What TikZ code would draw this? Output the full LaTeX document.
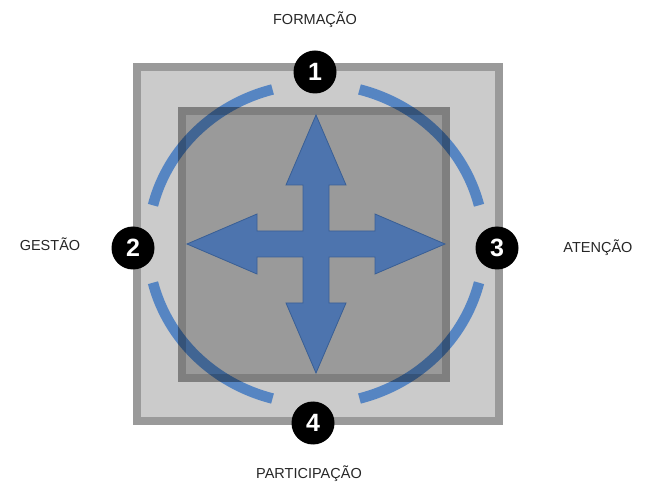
\documentclass[tikz,border=0pt]{standalone}
\usepackage{fontspec}
\setmainfont{Liberation Sans}
\definecolor{outerfill}{HTML}{CBCBCB}
\definecolor{outerline}{HTML}{9A9A9A}
\definecolor{innerfill}{HTML}{C2C2C2}
\definecolor{innerline}{HTML}{A0A0A0}
\definecolor{ringblue}{HTML}{4A7EC2}
\definecolor{arrowblue}{HTML}{4D74AE}
\definecolor{arrowline}{HTML}{3A5F95}
\tikzset{
  numcirc/.style={circle, fill=black, minimum size=43pt, inner sep=0pt,
    text=white, font=\fontsize{25}{25}\selectfont\bfseries},
  lbl/.style={font=\fontsize{14.5}{16}\selectfont, text=black!85},
  ringarc/.style={draw=ringblue, line width=10.5pt, opacity=0.9},
}
\begin{document}
\begin{tikzpicture}[x=1pt,y=1pt]
\useasboundingbox (0,0) rectangle (646,488);
% outer square
\draw[outerline, line width=8pt, fill=outerfill] (137,67) rectangle (499,421);
% ring
\begin{scope}[shift={(316,244)}]
  \draw[ringarc] (14:168 and 160) arc[start angle=14, end angle=75, x radius=168, y radius=160];
  \draw[ringarc] (105:168 and 160) arc[start angle=105, end angle=166, x radius=168, y radius=160];
  \draw[ringarc] (194:168 and 160) arc[start angle=194, end angle=255, x radius=168, y radius=160];
  \draw[ringarc] (285:168 and 160) arc[start angle=285, end angle=346, x radius=168, y radius=160];
\end{scope}
% inner square (multiplied over the ring)
\begin{scope}[blend mode=multiply]
\fill[innerfill] (186,114) rectangle (442,373);
\draw[innerline, line width=8pt] (182,110) rectangle (446,377);
\end{scope}
% four-way arrow
\begin{scope}[shift={(316,244)}]
  \filldraw[fill=arrowblue, draw=arrowline, line width=0.8pt, line join=miter]
    (129,0) -- (59,30) -- (59,13) -- (13,13) -- (13,59) -- (30,59) -- (0,129)
    -- (-30,59) -- (-13,59) -- (-13,13) -- (-59,13) -- (-59,30) -- (-129,0)
    -- (-59,-30) -- (-59,-13) -- (-13,-13) -- (-13,-59) -- (-30,-59) -- (0,-129)
    -- (30,-59) -- (13,-59) -- (13,-13) -- (59,-13) -- (59,-30) -- cycle;
\end{scope}
% numbered circles
\node[numcirc] (n1) at (315,416) {1};
\node[numcirc] (n2) at (133,240) {2};
\node[numcirc] (n3) at (497,240) {3};
\node[numcirc] (n4) at (313,65) {4};
% labels
\node[lbl] (formacao) at (315,468) {FORMAÇÃO};
\node[lbl] (gestao) at (50,244) {GESTÃO};
\node[lbl] (atencao) at (598,240) {ATENÇÃO};
\node[lbl] (participacao) at (309,14) {PARTICIPAÇÃO};
\end{tikzpicture}
\end{document}
